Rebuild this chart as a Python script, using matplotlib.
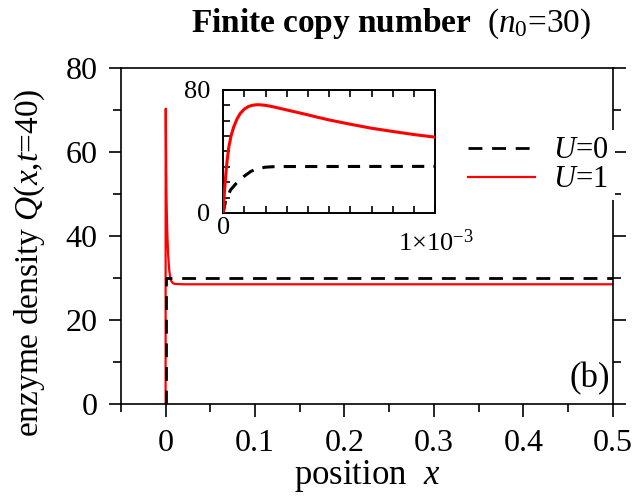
import numpy as np
import matplotlib
matplotlib.use('Agg')
import matplotlib.pyplot as plt
from matplotlib.ticker import MultipleLocator, FixedLocator

plt.rcParams['font.family'] = ['Liberation Serif']
plt.rcParams['mathtext.fontset'] = 'custom'
plt.rcParams['mathtext.rm'] = 'Liberation Serif'
plt.rcParams['mathtext.it'] = 'Liberation Serif:italic'
plt.rcParams['mathtext.bf'] = 'Liberation Serif:bold'

# main panel data (position x, density Q)
x_u0 = [0.0, 0.0, 0.5]
q_u0 = [0.0, 30.0, 30.0]
x_u1 = [0.0, 0.00001, 0.00003, 0.00005, 0.00008, 0.00013, 0.00018, 0.00024, 0.0003,
        0.0004, 0.0005, 0.0006, 0.0007, 0.0008, 0.0009, 0.001, 0.0015, 0.002,
        0.003, 0.004, 0.005, 0.006, 0.008, 0.01, 0.02, 0.5]
q_u1 = [0.0, 21.6, 43.0, 56.0, 65.0, 69.0, 70.3, 69.0, 67.0,
        63.8, 60.5, 57.7, 55.1, 53.0, 51.0, 49.3, 44.0, 40.0,
        35.0, 32.0, 30.3, 29.4, 28.8, 28.6, 28.5, 28.5]

# inset data (x in units of 1e-3)
xi_u0 = [0.0, 0.012, 0.035, 0.06, 0.08, 0.1, 0.13, 0.16, 0.2, 0.25, 1.0]
qi_u0 = [0.0, 8.0, 15.0, 19.0, 21.6, 24.0, 27.0, 28.8, 29.8, 30.2, 30.3]
xi_u1 = [0.0, 0.004, 0.008, 0.012, 0.018, 0.027, 0.038, 0.05, 0.065, 0.08, 0.1,
         0.12, 0.14, 0.16, 0.18, 0.2, 0.22, 0.25, 0.30, 0.35, 0.40, 0.45,
         0.50, 0.60, 0.70, 0.80, 0.90, 1.0]
qi_u1 = [0.0, 9.0, 17.0, 24.0, 33.0, 43.0, 50.5, 56.0, 61.0, 64.6, 67.6,
         69.3, 70.1, 70.4, 70.3, 70.0, 69.5, 68.6, 67.0, 65.4, 63.8, 62.1,
         60.5, 57.7, 55.1, 53.0, 51.0, 49.3]

fig = plt.figure(figsize=(6.43, 4.96), dpi=100)
ax = fig.add_axes([0.188, 0.1855, 0.765, 0.6775])

ax.plot(x_u1, q_u1, c='#ff0000', lw=1.6, zorder=2, label='$U$=1')
ax.plot(x_u0, q_u0, c='k', lw=2.0, dashes=(5, 3.5), zorder=3, label='$U$=0')

ax.set_xlim(-0.05, 0.5)
ax.set_ylim(0, 80)
ax.xaxis.set_major_locator(FixedLocator([0, 0.1, 0.2, 0.3, 0.4, 0.5]))
ax.xaxis.set_major_formatter(matplotlib.ticker.FuncFormatter(lambda v, p: '0' if abs(v) < 1e-9 else '%g' % v))
ax.xaxis.set_minor_locator(FixedLocator([-0.05, 0.05, 0.15, 0.25, 0.35, 0.45]))
ax.yaxis.set_major_locator(MultipleLocator(20))
ax.yaxis.set_minor_locator(MultipleLocator(10))
ax.tick_params(axis='x', which='both', direction='out', top=False, bottom=True,
               labelsize=23, pad=9, width=1.2)
ax.tick_params(axis='y', which='both', direction='out', left=True, right=True,
               labelsize=23, pad=8, width=1.2)
ax.tick_params(which='major', length=9)
ax.tick_params(which='minor', length=6)
for s in ax.spines.values():
    s.set_linewidth(1.2)

ax.set_xlabel('position  $x$', fontsize=25, labelpad=0)
ax.set_ylabel('enzyme density $Q$($x$,$t$=40)', fontsize=24)
ax.yaxis.set_label_coords(-0.15, 0.42)
ax.set_title(r'$\mathbf{Finite\ copy\ number}$  ($n_0$=30)', fontsize=24,
             pad=26, x=0.55)

h, l = ax.get_legend_handles_labels()
leg = ax.legend(h[::-1], l[::-1], loc='upper right', bbox_to_anchor=(1.035, 0.86),
                frameon=True, fontsize=22, handlelength=2.2, handletextpad=0.6,
                labelspacing=0.0, borderpad=0.2, fancybox=False)
leg.get_frame().set_edgecolor('none')
leg.get_frame().set_facecolor('white')
leg.get_frame().set_alpha(1.0)

ax.text(0.497, 2, '(b)', fontsize=25, ha='right', va='bottom')

# inset
axi = fig.add_axes([0.347, 0.5706, 0.330, 0.248])
axi.plot(xi_u1, qi_u1, c='#ff0000', lw=2.2, zorder=3)
axi.plot(xi_u0, qi_u0, c='k', lw=2.2, dashes=(4, 3), zorder=2)
axi.set_xlim(0, 1.0)
axi.set_ylim(0, 80)
axi.xaxis.set_major_locator(FixedLocator([0, 1.0]))
axi.xaxis.set_minor_locator(MultipleLocator(0.1))
axi.yaxis.set_major_locator(FixedLocator([0, 80]))
axi.yaxis.set_minor_locator(MultipleLocator(10))
axi.set_xticklabels(['0', r'1$\times$10$^{-3}$'])
axi.set_yticklabels(['0', '80'])
axi.tick_params(which='both', direction='in', top=True, bottom=True, left=True,
                right=False, labelsize=19, width=1.2)
axi.tick_params(axis='y', pad=9)
axi.tick_params(axis='x', pad=3)
axi.tick_params(which='major', length=5)
axi.tick_params(which='minor', length=5)
lbls = axi.get_xticklabels()
lbls[1].set_verticalalignment('top')
lbls[1].set_y(-0.1)
for s in axi.spines.values():
    s.set_linewidth(1.4)

fig.savefig('out.png', dpi=100)
